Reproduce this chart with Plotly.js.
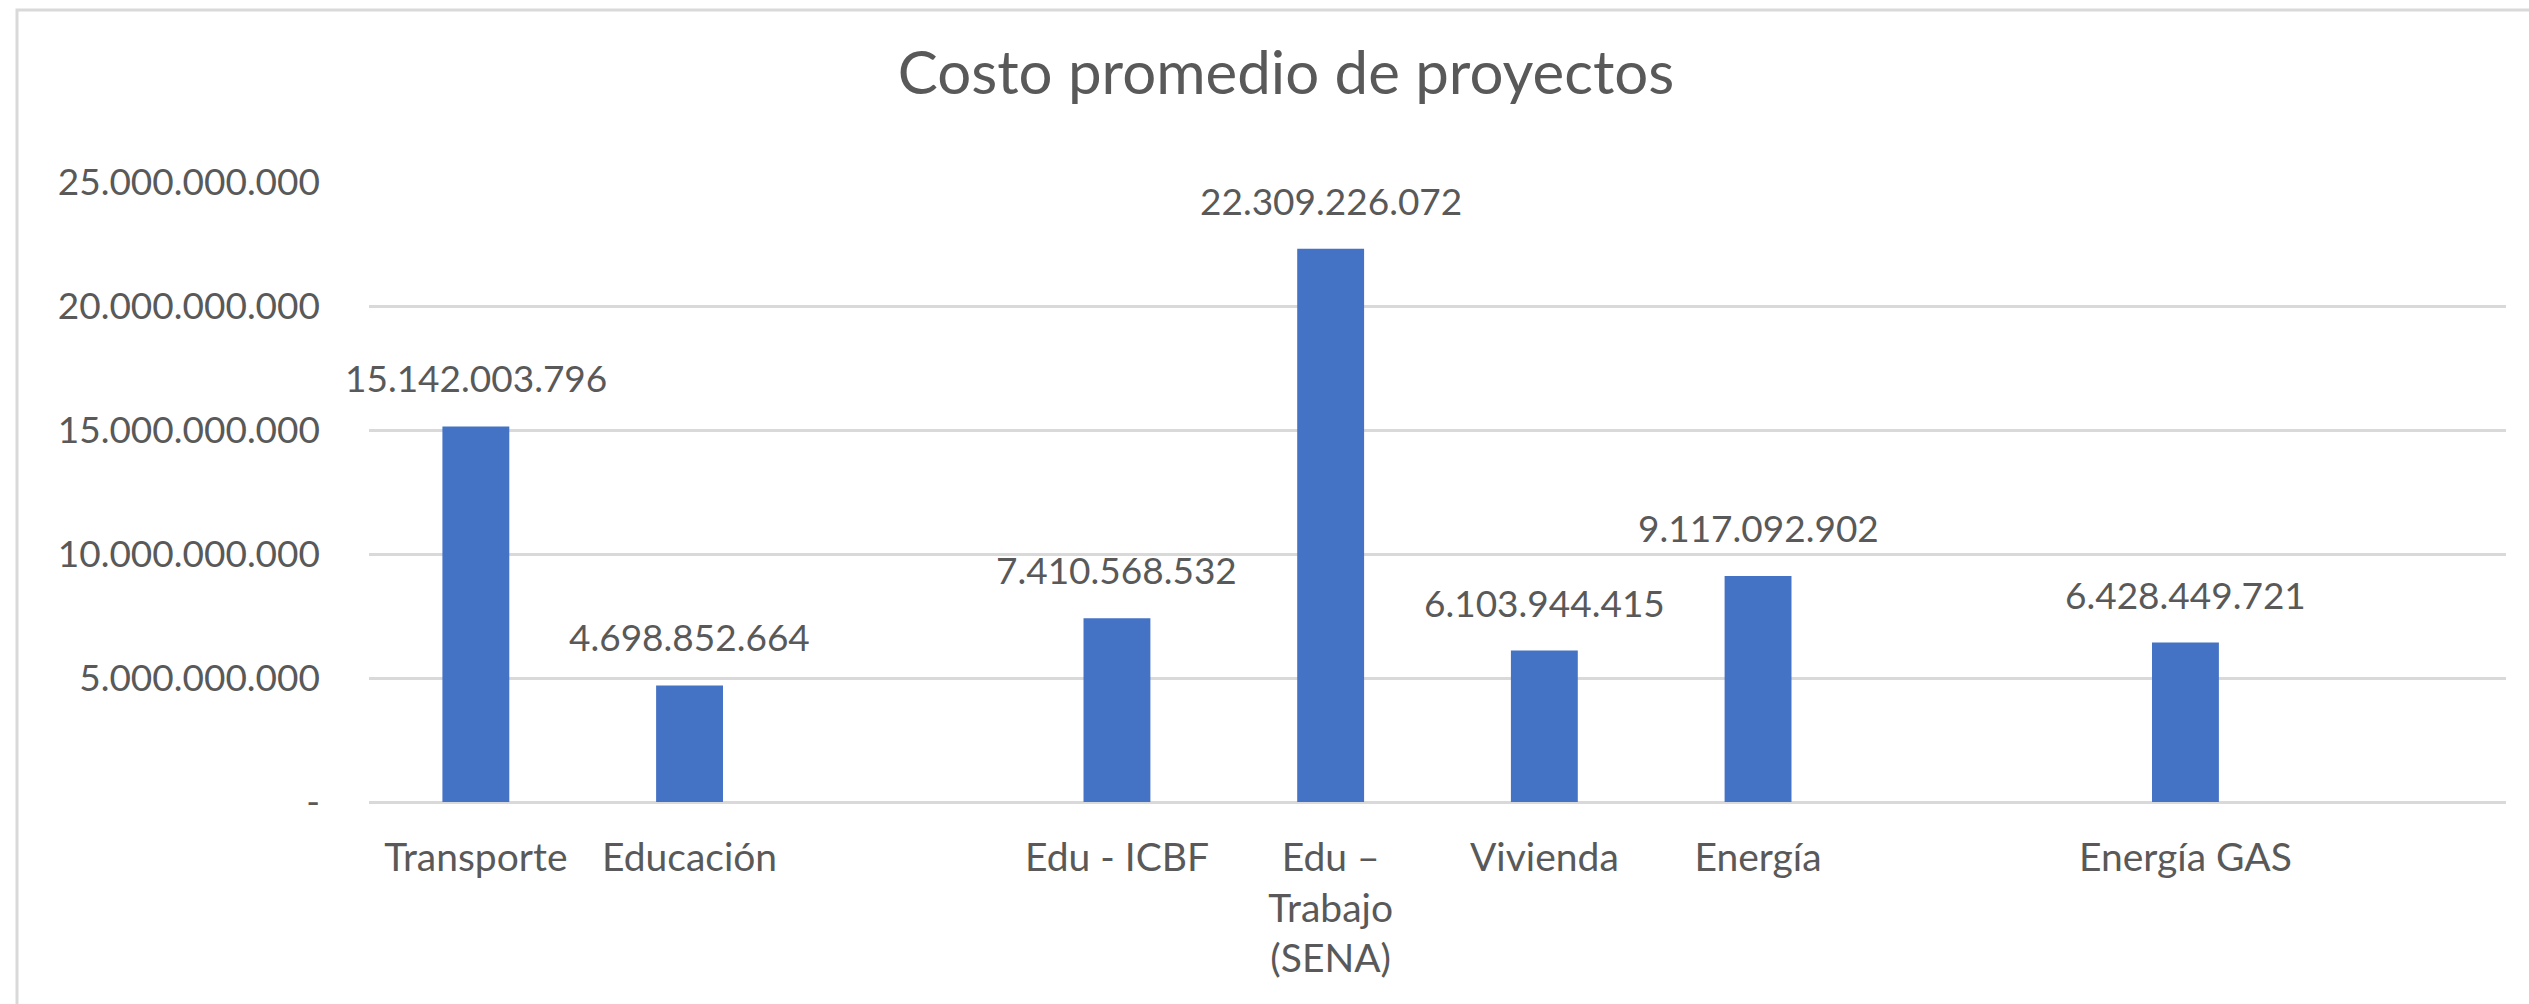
<!DOCTYPE html>
<html>
<head>
<meta charset="utf-8">
<script src="https://cdn.plot.ly/plotly-3.0.1.min.js"></script>
<style>html,body{margin:0;padding:0;background:#fff;}#chart{width:2529px;height:1004px;}</style>
</head>
<body>
<div id="chart"></div>
<script>
const categories = ["Transporte", "Educación", "", "Edu - ICBF", "Edu –<br>Trabajo<br>(SENA)", "Vivienda", "Energía", "", "Energía GAS", ""];
const costs = [15142003796, 4698852664, null, 7410568532, 22309226072, 6103944415, 9117092902, null, 6428449721, null];
const yTickValues = [0, 5000000000, 10000000000, 15000000000, 20000000000, 25000000000];
const chartTitle = "Costo promedio de proyectos";

function fmt(v) {
  if (v === 0) return "-";
  return String(Math.round(v)).replace(/\B(?=(\d{3})+(?!\d))/g, ".");
}

const idx = categories.map((_, i) => i);
const FONT = "Lato, 'Open Sans', sans-serif";
const TXT = "#595959";

const annotations = [];
costs.forEach((v, i) => {
  if (v === null) return;
  annotations.push({
    x: i, y: v, xref: "x", yref: "y",
    text: fmt(v), showarrow: false,
    yanchor: "bottom", yshift: 24,
    font: {family: FONT, size: 37, color: TXT}
  });
});

const trace = {
  type: "bar",
  x: idx,
  y: costs,
  marker: {color: "#4472C4"},
  hoverinfo: "skip"
};

const W = 2529, H = 1004, L = 369, R = 23, T = 182, B = 202;
const pw = W - L - R, ph = H - T - B;

const layout = {
  width: W, height: H,
  margin: {l: L, r: R, t: T, b: B, pad: 0},
  paper_bgcolor: "#ffffff",
  plot_bgcolor: "#ffffff",
  showlegend: false,
  bargap: 0.687,
  title: {
    text: chartTitle,
    font: {family: FONT, size: 60, color: TXT},
    xref: "container", x: 1286 / W, xanchor: "center",
    yref: "container", y: 1 - 52 / H, yanchor: "top"
  },
  xaxis: {
    type: "linear",
    range: [-0.5, categories.length - 0.5],
    tickvals: idx,
    ticktext: categories,
    showgrid: false,
    zeroline: false,
    showline: false,
    ticks: "",
    ticklabelstandoff: 29,
    tickfont: {family: FONT, size: 39, color: TXT},
    fixedrange: true
  },
  yaxis: {
    range: [0, 25000000000],
    tickvals: yTickValues,
    ticktext: yTickValues.map(fmt),
    showgrid: true,
    gridcolor: "#d9d9d9",
    gridwidth: 3,
    zeroline: true,
    zerolinecolor: "#d9d9d9",
    zerolinewidth: 3,
    showline: false,
    ticks: "",
    ticklabelstandoff: 48,
    tickfont: {family: FONT, size: 37, color: TXT},
    fixedrange: true
  },
  annotations: annotations,
  shapes: [{
    type: "rect", xref: "paper", yref: "paper",
    x0: (17 - L) / pw, x1: 1.2,
    y0: -0.6, y1: (H - B - 10) / ph,
    line: {color: "#d9d9d9", width: 3},
    fillcolor: "rgba(0,0,0,0)", layer: "below"
  }]
};

Plotly.newPlot("chart", [trace], layout, {staticPlot: true, displayModeBar: false});
</script>
</body>
</html>
